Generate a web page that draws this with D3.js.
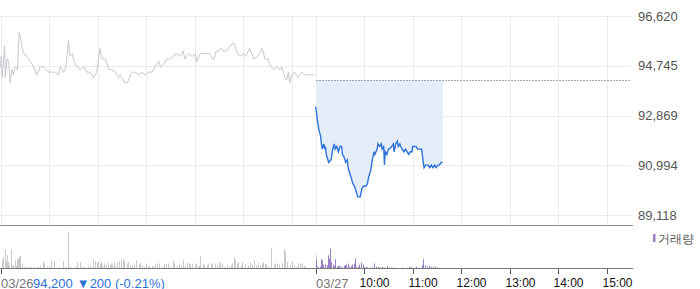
<!DOCTYPE html>
<html>
<head>
<meta charset="utf-8">
<script src="https://cdn.jsdelivr.net/npm/d3@7"></script>
<style>
  body { margin: 0; background: #fff; }
  svg text { font-family: "Liberation Sans", Arial, sans-serif; }
</style>
</head>
<body>
<div id="chart"></div>
<script>
// days on the x axis, tick labels
const dayLabels = ["03/26", "03/27"];
const hourTicks = ["10:00", "11:00", "12:00", "13:00", "14:00", "15:00"];
const yTicks = [96620, 94745, 92869, 90994, 89118];
const prevClose = 94200;
const infoPrice = "94,200";
const infoChange = "\u25BC200 (-0.21%)";
const volumeLabel = "거래량";

// 03/26 minute prices
const prevTimes = ["09:00","09:01","09:02","09:04","09:05","09:06","09:08","09:10","09:12","09:14","09:16","09:18","09:21","09:23","09:25","09:27","09:29","09:33","09:37","09:41","09:45","09:49","09:53","09:56",
  "10:00","10:04","10:08","10:12","10:14","10:18","10:21","10:24","10:26","10:29","10:31","10:35","10:39","10:43","10:47","10:51","10:55","10:59",
  "11:03","11:06","11:10","11:14","11:18","11:22","11:26","11:28","11:30","11:34","11:37","11:41","11:43","11:47","11:51","11:55","11:59",
  "12:03","12:07","12:11","12:16","12:18","12:22","12:26","12:30","12:34","12:38","12:42","12:46","12:48","12:53","12:57",
  "13:01","13:03","13:07","13:11","13:15","13:19","13:22","13:24","13:27","13:30","13:32","13:36","13:40","13:44","13:48","13:50","13:52","13:54","13:56",
  "14:01","14:03","14:05","14:08","14:11","14:13","14:17","14:21","14:23","14:25","14:27","14:31","14:33","14:35","14:38","14:42","14:46","14:48","14:50","14:52","14:54","14:56","14:58",
  "15:00","15:04","15:08","15:13","15:17","15:23","15:28"];
const prevPrices = [94700,95100,94300,95000,95500,94300,95000,94900,94100,94600,94400,94700,94600,96000,95800,95400,95200,95100,94900,94700,94400,94700,94700,94600,
  94500,94500,94500,94400,94700,94500,94700,95700,95100,95200,94900,94700,94600,94700,94500,94500,94300,94500,
  95400,95000,95000,94600,94600,94500,94300,94400,94300,94100,94100,94400,94500,94500,94400,94500,94400,
  94500,94500,94700,94900,94700,94800,95000,95000,95100,95200,95100,95300,95000,95200,95100,
  95200,94900,95200,95200,95200,95200,95000,95000,95300,95300,95400,95300,95300,95500,95600,95500,95300,95200,95100,
  95200,95100,95200,95400,95200,95000,95100,95200,95400,95300,95000,95000,94800,94700,94600,94700,94600,94700,94500,94300,94200,94500,94100,
  94400,94500,94300,94500,94400,94400,94400];

// 03/27 minute prices
const todayTimes = ["09:00","09:02","09:04","09:06","09:07","09:08","09:10","09:11","09:12","09:13","09:15","09:16","09:19","09:21","09:23","09:24","09:26","09:28","09:30","09:32","09:33","09:35","09:37","09:39","09:40","09:42","09:44","09:46","09:48","09:50","09:52","09:55","09:57","09:59",
  "10:02","10:04","10:05","10:08","10:10","10:12","10:13","10:16","10:17","10:19","10:21","10:22","10:24","10:25","10:26","10:28","10:30","10:31","10:34","10:36","10:37","10:39","10:41","10:42","10:44","10:45","10:47","10:49","10:51","10:53","10:55","10:57","10:59",
  "11:00","11:02","11:04","11:06","11:09","11:11","11:13","11:14","11:16","11:19","11:21","11:23","11:25","11:27","11:29","11:31","11:33","11:35","11:37"];
const todayPrices = [93200,92700,92300,92100,91800,91600,91800,91600,91700,91400,91200,91100,91200,91600,91800,91600,91700,91500,91700,91700,91400,91300,91100,91200,90900,90700,90500,90300,90200,90000,89800,89800,90100,90200,
  90200,90300,90500,90800,91200,91500,91400,91600,91800,91700,91800,91600,91700,91000,91500,91400,91600,91600,91700,91800,91500,91800,91900,91700,91800,91700,91600,91500,91600,91500,91400,91500,91500,
  91700,91700,91700,91600,91600,91600,91100,90900,91000,91000,90900,91000,90900,91000,90900,91000,91000,91100,91100];

// volumes
const prevVolTimes = ["09:02","09:03","09:05","09:07","09:08","09:09","09:11","09:13","09:14","09:16","09:18","09:19","09:21","09:22","09:23","09:24","09:26","09:27","09:29","09:31","09:33","09:36","09:38","09:41","09:45","09:47","09:49","09:52","09:54","09:58",
  "10:00","10:02","10:06","10:10","10:12","10:17","10:20","10:24","10:26","10:33","10:35","10:38","10:41","10:43","10:48","10:51","10:54","10:55","10:57","10:59",
  "11:01","11:03","11:04","11:06","11:08","11:11","11:13","11:15","11:17","11:18","11:20","11:22","11:24","11:26","11:29","11:31","11:33","11:36","11:38","11:40","11:43","11:45","11:48","11:51","11:53","11:55","11:57",
  "12:00","12:02","12:04","12:07","12:09","12:11","12:14","12:16","12:20","12:22","12:25","12:27","12:30","12:33","12:35","12:38","12:41","12:43","12:46","12:48","12:51","12:53","12:55","12:57",
  "13:00","13:02","13:04","13:06","13:07","13:10","13:12","13:15","13:17","13:21","13:22","13:25","13:28","13:30","13:32","13:34","13:37","13:40","13:43","13:45","13:47","13:49","13:50","13:52","13:54","13:58","13:59",
  "14:02","14:03","14:06","14:09","14:11","14:14","14:16","14:19","14:21","14:23","14:25","14:27","14:29","14:31","14:35","14:38","14:40","14:42","14:45","14:48","14:51","14:52","14:54","14:58",
  "15:01","15:03","15:05","15:08","15:10","15:13","15:15","15:17","15:19","15:30"];
const prevVols = [8300,11700,19000,6700,13300,6700,2700,19000,3300,2700,8300,2700,8300,10000,11700,12700,4000,2700,1700,1000,1300,1700,1000,1700,1300,1700,2700,6700,5000,1700,
  2700,8300,6700,1000,1300,7300,1700,36700,1700,1700,6000,6700,1700,1300,1700,3300,9300,3300,7300,6000,
  7300,5000,6700,3300,5000,4000,6000,3300,5000,4000,6000,2700,6000,7300,9300,9300,7300,5000,6700,3300,2700,4000,8300,4000,6000,3300,1700,
  5000,2700,1700,2700,1700,4000,5000,5000,1700,4000,5000,5000,1700,8300,5000,2700,4000,3300,8300,2700,6000,5000,4000,5000,
  4000,5000,1700,2700,12700,5000,4000,3300,5000,5000,4000,5000,3300,6700,5000,5000,1700,4000,1700,3300,5000,11700,8300,5000,6000,2700,6000,
  4000,2700,3300,6000,4000,8300,3300,6000,3300,5000,6000,4000,5000,1700,20700,4000,5000,5000,4000,5000,19300,16700,6700,3300,
  7300,3300,1700,5000,5000,5000,2700,1700,1000,13300];
const todayVolTimes = ["09:00","09:02","09:03","09:05","09:07","09:08","09:09","09:11","09:12","09:14","09:15","09:16","09:18","09:19","09:21","09:22","09:24","09:26","09:28","09:29","09:31","09:33","09:35","09:36","09:38","09:40","09:41","09:43","09:45","09:47","09:49","09:50","09:52","09:54","09:56","09:58",
  "10:00","10:02","10:03","10:07","10:10","10:12","10:14","10:17","10:20","10:22","10:25","10:28","10:31","10:33","10:36","10:47","10:55","10:58",
  "11:04","11:06","11:12","11:13","11:15","11:18","11:20","11:23","11:25","11:28","11:30"];
const todayVols = [8300,1700,1000,1700,9300,8300,4000,2700,4000,3300,13300,10000,20000,6700,4000,2700,9300,1700,2700,2700,1700,1000,2700,3300,4000,5000,1700,2700,4000,5000,10000,1700,1700,4000,6000,4000,
  1700,1700,1000,1000,1000,5000,1700,1700,1000,1700,1000,2700,1000,1000,1000,1000,1700,1700,
  1700,1000,3300,9300,3300,1700,2700,1700,1700,1700,1000];

const W = 700, H = 289;
const plotRight = 631;

const svg = d3.select("#chart").append("svg")
  .attr("width", W)
  .attr("height", H);

// minutes since first open, two sessions of 390 minutes
const toMin = (day, t) => {
  const [h, m] = t.split(":").map(Number);
  return day * 390 + (h - 9) * 60 + m;
};

const x = d3.scaleLinear().domain([0, 780]).range([0.5, plotRight]);
const y = d3.scaleLinear().domain([89118, 96620]).range([215, 16]);
const yv = d3.scaleLinear().domain([0, 40000]).range([268.5, 228.5]);
const px = v => Math.round(x(v)) + 0.5;

// grid
const grid = svg.append("g");
grid.selectAll(".hgrid")
  .data(yTicks)
  .join("line")
  .attr("x1", 0).attr("x2", plotRight)
  .attr("y1", d => Math.round(y(d)) + 0.5)
  .attr("y2", d => Math.round(y(d)) + 0.5)
  .attr("stroke", "#ebebeb");

const vgridMins = [];
for (let day = 0; day < 2; day++) {
  for (let h = 9; h <= 15; h++) vgridMins.push(toMin(day, `${h}:00`));
}
grid.selectAll(".vgrid")
  .data(vgridMins)
  .join("line")
  .attr("x1", d => px(d)).attr("x2", d => px(d))
  .attr("y1", 16).attr("y2", 225)
  .attr("stroke", "#ebebeb");

// y labels
svg.append("g").selectAll("text")
  .data(yTicks)
  .join("text")
  .attr("x", 638)
  .attr("y", d => y(d))
  .attr("dominant-baseline", "central")
  .attr("font-size", 13)
  .attr("fill", "#555")
  .text(d => d3.format(",")(d));

const prevData = prevTimes.map((t, i) => ({ m: toMin(0, t), v: prevPrices[i] }));
const todayData = todayTimes.map((t, i) => ({ m: toMin(1, t), v: todayPrices[i] }));

// area between close and today's price
svg.append("path")
  .datum(todayData)
  .attr("fill", "#e5edf9")
  .attr("d", d3.area().x(d => x(d.m)).y0(y(prevClose)).y1(d => y(d.v)));

// previous close dotted line
svg.append("line")
  .attr("x1", px(390)).attr("x2", plotRight)
  .attr("y1", Math.round(y(prevClose)) + 0.5)
  .attr("y2", Math.round(y(prevClose)) + 0.5)
  .attr("stroke", "#555")
  .attr("stroke-dasharray", "1,2");

const line = d3.line().x(d => x(d.m)).y(d => y(d.v));
svg.append("path")
  .datum(prevData)
  .attr("fill", "none")
  .attr("stroke", "#c6c8ce")
  .attr("stroke-width", 1)
  .attr("d", line);

svg.append("path")
  .datum(todayData)
  .attr("fill", "none")
  .attr("stroke", "#2e72d9")
  .attr("stroke-width", 1.4)
  .attr("d", line);

// bottom border of price panel
svg.append("line")
  .attr("x1", 0).attr("x2", 633)
  .attr("y1", 225.5).attr("y2", 225.5)
  .attr("stroke", "#8a8a8a");

// volume bars
const volData = prevVolTimes.map((t, i) => ({ m: toMin(0, t), v: prevVols[i], c: "#c8c9cd" }))
  .concat(todayVolTimes.map((t, i) => ({ m: toMin(1, t), v: todayVols[i], c: "#9a7fc6" })));
svg.append("g").selectAll("rect")
  .data(volData)
  .join("rect")
  .attr("x", d => Math.round(x(d.m)))
  .attr("width", 1)
  .attr("y", d => yv(d.v))
  .attr("height", d => yv(0) - yv(d.v))
  .attr("fill", d => d.c);

// volume axis
svg.append("line")
  .attr("x1", 0).attr("x2", 633)
  .attr("y1", 268.5).attr("y2", 268.5)
  .attr("stroke", "#777");

const tickMins = [toMin(0, "09:00"), toMin(1, "09:00")].concat(hourTicks.map(t => toMin(1, t)));
svg.append("g").selectAll("line")
  .data(tickMins)
  .join("line")
  .attr("x1", d => px(d)).attr("x2", d => px(d))
  .attr("y1", 269).attr("y2", 274)
  .attr("stroke", "#555");

// axis labels
const labelY = 283;
svg.append("g").selectAll("text")
  .data(dayLabels)
  .join("text")
  .attr("x", (d, i) => px(toMin(i, "09:00")) - 0.5)
  .attr("y", labelY)
  .attr("dominant-baseline", "central")
  .attr("font-size", 13)
  .attr("fill", "#777")
  .text(d => d);

svg.append("g").selectAll("text")
  .data(hourTicks)
  .join("text")
  .attr("x", d => px(toMin(1, d)) - 5)
  .attr("y", labelY)
  .attr("dominant-baseline", "central")
  .attr("font-size", 12)
  .attr("fill", "#111")
  .text(d => d);

// price info
const info = svg.append("text")
  .attr("x", 33)
  .attr("y", labelY)
  .attr("dominant-baseline", "central")
  .attr("font-size", 13)
  .attr("fill", "#2e72d9");
info.append("tspan").text(infoPrice);
info.append("tspan").attr("dx", 4).text(infoChange);

// legend
svg.append("rect")
  .attr("x", 653).attr("y", 234)
  .attr("width", 2.5).attr("height", 8)
  .attr("fill", "#9a7fc6");
svg.append("text")
  .attr("x", 658).attr("y", 238.5)
  .attr("dominant-baseline", "central")
  .attr("font-size", 12)
  .attr("fill", "#555")
  .text(volumeLabel);
</script>
</body>
</html>
